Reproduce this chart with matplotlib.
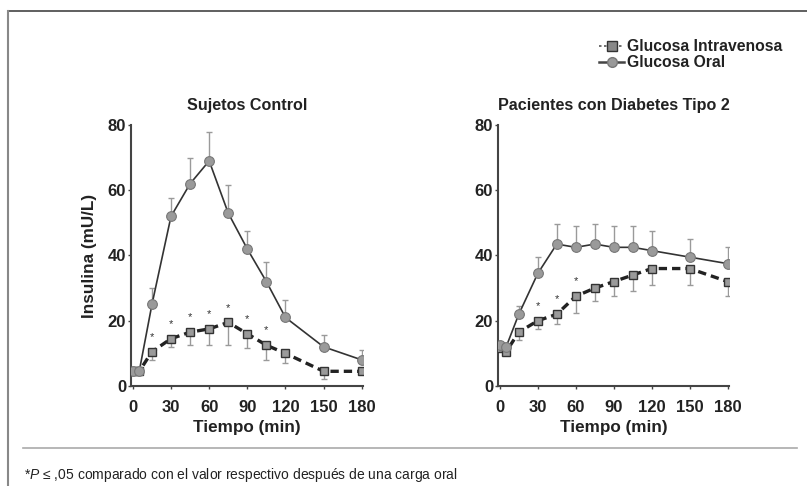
import matplotlib.pyplot as plt
from matplotlib.lines import Line2D

plt.rcParams['font.family'] = ['Liberation Sans', 'DejaVu Sans']
plt.rcParams['mathtext.fontset'] = 'custom'
plt.rcParams['mathtext.it'] = 'Liberation Sans:italic'
plt.rcParams['mathtext.rm'] = 'Liberation Sans'

# tiempo (min)
tiempo = [0, 5, 15, 30, 45, 60, 75, 90, 105, 120, 150, 180]

# Sujetos Control
ctl_oral = [4.5, 4.5, 25, 52, 62, 69, 53, 42, 32, 21, 12, 8]
ctl_oral_err = [0, 0, 5, 5.5, 8, 9, 8.5, 5.5, 6, 5.5, 3.5, 3]
ctl_iv = [4.5, 4.5, 10.5, 14.5, 16.5, 17.5, 19.5, 16, 12.5, 10, 4.5, 4.5]
ctl_iv_err = [0, 0, 2.5, 2.5, 4, 5, 7, 4.5, 4.5, 3, 2.5, 0]
ctl_sig = [15, 30, 45, 60, 75, 90, 105]

# Pacientes con Diabetes Tipo 2
dm_oral = [12.5, 12, 22, 34.5, 43.5, 42.5, 43.5, 42.5, 42.5, 41.5, 39.5, 37.5]
dm_oral_err = [0, 0, 2.5, 5, 6, 6.5, 6, 6.5, 6.5, 6, 5.5, 5]
dm_iv = [11.5, 10.5, 16.5, 20, 22, 27.5, 30, 32, 34, 36, 36, 32]
dm_iv_err = [0, 0, 2.5, 2.5, 3, 5, 4, 4.5, 5, 5, 5, 4.5]
dm_sig = [30, 45, 60]

fig = plt.figure(figsize=(8.07, 4.86), dpi=100)
ax1 = fig.add_axes([0.1623, 0.2058, 0.2875, 0.537])
ax2 = fig.add_axes([0.617, 0.2058, 0.2863, 0.537])


def panel(ax, oral, oral_err, iv, iv_err, sig, title):
    zeros = [0] * len(tiempo)
    ax.errorbar(tiempo, iv, yerr=[iv_err, zeros], fmt='none', ecolor='#9a9a9a',
                elinewidth=1, capsize=2, zorder=1)
    ax.errorbar(tiempo, oral, yerr=[zeros, oral_err], fmt='none', ecolor='#9a9a9a',
                elinewidth=1, capsize=2, zorder=1)
    ax.plot(tiempo, iv, color='#222222', lw=2.4, ls=(0, (2.5, 1.5)), marker='s',
            markersize=6, markerfacecolor='#9a9a9a', markeredgecolor='#333333',
            markeredgewidth=1, zorder=3)
    ax.plot(tiempo, oral, color='#333333', lw=1.2, marker='o', markersize=7,
            markerfacecolor='#9a9a9a', markeredgecolor='#777777',
            markeredgewidth=0.8, zorder=4)
    for t in sig:
        v = iv[tiempo.index(t)]
        ax.text(t, v + 3.0, '*', ha='center', va='bottom', fontsize=8,
                color='#333333')
    ax.set_xlim(-1.5, 181)
    ax.set_ylim(0, 80)
    ax.set_xticks([0, 30, 60, 90, 120, 150, 180])
    ax.set_yticks([0, 20, 40, 60, 80])
    for s in ['top', 'right']:
        ax.spines[s].set_visible(False)
    for s in ['left', 'bottom']:
        ax.spines[s].set_linewidth(1.5)
        ax.spines[s].set_color('#444444')
    ax.tick_params(direction='out', length=2, width=1, color='#444444',
                   labelsize=12, labelcolor='#222222')
    ax.tick_params(axis='x', pad=8)
    ax.tick_params(axis='y', pad=1.5)
    for lab in ax.get_xticklabels() + ax.get_yticklabels():
        lab.set_fontweight('bold')
    ax.set_xlabel('Tiempo (min)', fontsize=12.3, fontweight='bold', color='#222222',
                  labelpad=4)
    ax.set_title(title, fontsize=11.6, fontweight='bold', color='#222222', pad=11)


panel(ax1, ctl_oral, ctl_oral_err, ctl_iv, ctl_iv_err, ctl_sig, 'Sujetos Control')
panel(ax2, dm_oral, dm_oral_err, dm_iv, dm_iv_err, dm_sig, 'Pacientes con Diabetes Tipo 2')
ax1.set_ylabel('Insulina (mU/L)', fontsize=12.3, fontweight='bold', color='#222222',
               labelpad=8)

# leyenda
h_iv = Line2D([], [], color='#555555', lw=1.2, ls=(0, (1.5, 1.5)), marker='s',
              markersize=7, markerfacecolor='#888888', markeredgecolor='#333333')
h_oral = Line2D([], [], color='#444444', lw=1.8, marker='o', markersize=7,
                markerfacecolor='#999999', markeredgecolor='#777777')
leg = fig.legend([h_iv, h_oral], ['Glucosa Intravenosa', 'Glucosa Oral'],
                 loc='upper left', bbox_to_anchor=(0.725, 0.948), frameon=False,
                 handlelength=1.6, handletextpad=0.15, labelspacing=0.05,
                 prop={'weight': 'bold', 'size': 11.3})
for t in leg.get_texts():
    t.set_color('#222222')

# marco y nota
fig.add_artist(Line2D([0.0099, 1.0], [0.977, 0.977], color='#444444', lw=1.2))
fig.add_artist(Line2D([0.0099, 0.0099], [0.0, 0.977], color='#888888', lw=1.5))
fig.add_artist(Line2D([0.0285, 0.988], [0.078, 0.078], color='#aaaaaa', lw=1.2))
fig.text(0.03, 0.004, r'*$\it{P}$ ≤ ,05 comparado con el valor respectivo después de una carga oral',
         fontsize=10, color='#222222', ha='left', va='bottom')

fig.savefig('out.png', dpi=100)
